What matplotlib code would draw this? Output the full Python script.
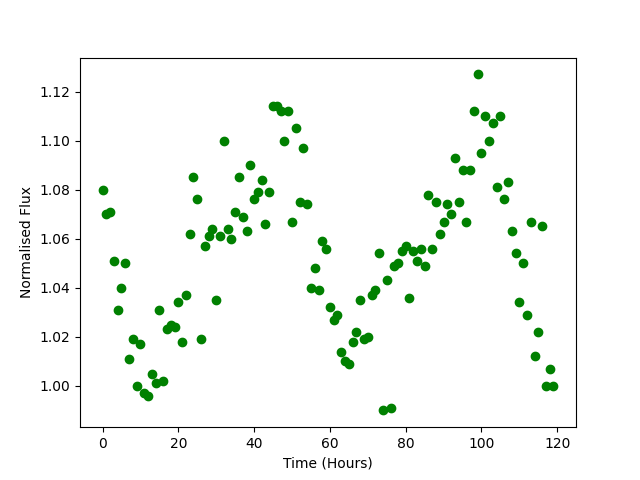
import matplotlib
matplotlib.use("Agg")
import matplotlib.pyplot as plt
import numpy as np

hours = list(range(120))
flux = [1.080, 1.070, 1.071, 1.051, 1.031, 1.040, 1.050, 1.011, 1.019, 1.000,
        1.017, 0.997, 0.996, 1.005, 1.001, 1.031, 1.002, 1.023, 1.025, 1.024,
        1.034, 1.018, 1.037, 1.062, 1.085, 1.076, 1.019, 1.057, 1.061, 1.064,
        1.035, 1.061, 1.100, 1.064, 1.060, 1.071, 1.085, 1.069, 1.063, 1.090,
        1.076, 1.079, 1.084, 1.066, 1.079, 1.114, 1.114, 1.112, 1.100, 1.112,
        1.067, 1.105, 1.075, 1.097, 1.074, 1.040, 1.048, 1.039, 1.059, 1.056,
        1.032, 1.027, 1.029, 1.014, 1.010, 1.009, 1.018, 1.022, 1.035, 1.019,
        1.020, 1.037, 1.039, 1.054, 0.990, 1.043, 0.991, 1.049, 1.050, 1.055,
        1.057, 1.036, 1.055, 1.051, 1.056, 1.049, 1.078, 1.056, 1.075, 1.062,
        1.067, 1.074, 1.070, 1.093, 1.075, 1.088, 1.067, 1.088, 1.112, 1.127,
        1.095, 1.110, 1.100, 1.107, 1.081, 1.110, 1.076, 1.083, 1.063, 1.054,
        1.034, 1.050, 1.029, 1.067, 1.012, 1.022, 1.065, 1.000, 1.007, 1.000]

fig, ax = plt.subplots(figsize=(6.4, 4.8), dpi=100)
ax.plot(hours, flux, 'o', color='green')
ax.set_xlabel("Time (Hours)")
ax.set_ylabel("Normalised Flux")
fig.savefig("out.png")
